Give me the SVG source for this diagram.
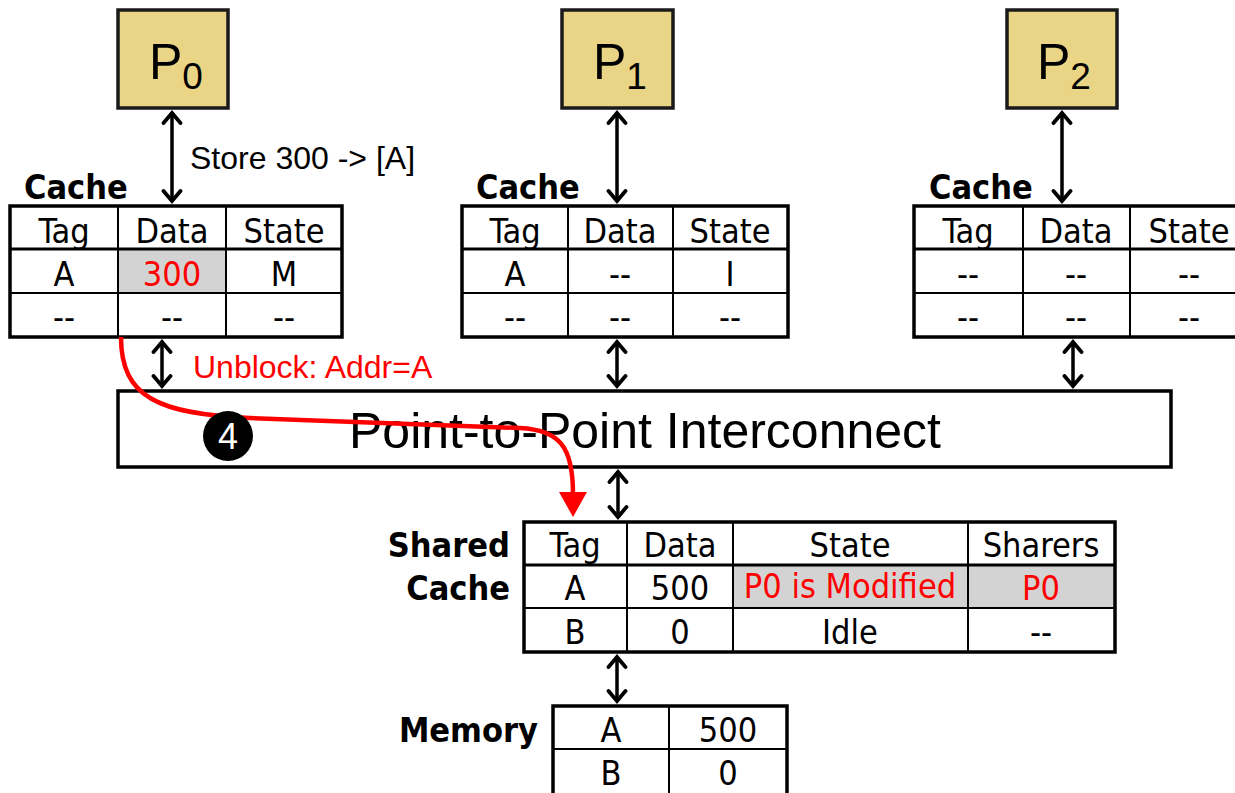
<svg xmlns="http://www.w3.org/2000/svg" width="1235" height="793" viewBox="0 0 1235 793">
<style>
.proc{fill:#e9d585;stroke:#1a1a1a;stroke-width:3.5}
.outer{fill:none;stroke:#000;stroke-width:3.5}
.inner{stroke:#000;stroke-width:2}
.hsep{stroke:#000;stroke-width:3}
.shade{fill:#d3d3d3}
.cell{font-family:"DejaVu Sans Condensed","DejaVu Sans",sans-serif;font-stretch:condensed;font-size:34px;text-anchor:middle;fill:#000}
.red{fill:#ff0000}
.lbl{font-family:"DejaVu Sans Condensed","DejaVu Sans",sans-serif;font-stretch:condensed;font-weight:bold;font-size:34px;fill:#000}
.ptxt{font-family:"Liberation Sans",Arial,sans-serif;font-size:50px;fill:#000}
.arial{font-family:"Liberation Sans",Arial,sans-serif;font-size:32px}
.conn{stroke:#000;stroke-width:3.5;fill:none;marker-start:url(#chev);marker-end:url(#chev)}
</style>
<defs>
<marker id="chev" viewBox="-12 -12 24 24" markerWidth="24" markerHeight="24" markerUnits="userSpaceOnUse" orient="auto-start-reverse" refX="0" refY="0">
<path d="M-10,-8.5 L0,0 L-10,8.5" fill="none" stroke="#000" stroke-width="3.8" stroke-linecap="round" stroke-linejoin="miter"/>
</marker>
</defs>
<rect width="1235" height="793" fill="#fff"/>

<g id="P0">
<rect class="proc" x="118" y="10" width="110" height="98"/>
<text class="ptxt" x="149" y="79">P<tspan font-size="37" dy="10">0</tspan></text>
</g>
<g id="P1">
<rect class="proc" x="562" y="10" width="111" height="98"/>
<text class="ptxt" x="593" y="79">P<tspan font-size="37" dy="10">1</tspan></text>
</g>
<g id="P2">
<rect class="proc" x="1007" y="10" width="110" height="98"/>
<text class="ptxt" x="1037" y="79">P<tspan font-size="37" dy="10">2</tspan></text>
</g>

<g id="cache0">
<text class="lbl" x="24" y="199">Cache</text>
<rect class="shade" x="118" y="249" width="108" height="44"/>
<line class="hsep" x1="10" y1="249" x2="342" y2="249"/>
<line class="inner" x1="10" y1="293" x2="342" y2="293"/>
<line class="inner" x1="118" y1="206" x2="118" y2="337"/>
<line class="inner" x1="226" y1="206" x2="226" y2="337"/>
<rect class="outer" x="10" y="206" width="332" height="131"/>
<text class="cell" x="64" y="243">Tag</text>
<text class="cell" x="172" y="243">Data</text>
<text class="cell" x="284" y="243">State</text>
<text class="cell" x="64" y="286">A</text>
<text class="cell red" x="172" y="286">300</text>
<text class="cell" x="284" y="286">M</text>
<text class="cell" x="64" y="329">--</text>
<text class="cell" x="172" y="329">--</text>
<text class="cell" x="284" y="329">--</text>
</g>

<g id="cache1">
<text class="lbl" x="476" y="199">Cache</text>
<line class="hsep" x1="462" y1="249" x2="788" y2="249"/>
<line class="inner" x1="462" y1="293" x2="788" y2="293"/>
<line class="inner" x1="568" y1="206" x2="568" y2="337"/>
<line class="inner" x1="673" y1="206" x2="673" y2="337"/>
<rect class="outer" x="462" y="206" width="326" height="131"/>
<text class="cell" x="515" y="243">Tag</text>
<text class="cell" x="620" y="243">Data</text>
<text class="cell" x="730" y="243">State</text>
<text class="cell" x="515" y="286">A</text>
<text class="cell" x="620" y="286">--</text>
<text class="cell" x="730" y="286">I</text>
<text class="cell" x="515" y="329">--</text>
<text class="cell" x="620" y="329">--</text>
<text class="cell" x="730" y="329">--</text>
</g>

<g id="cache2">
<text class="lbl" x="929" y="199">Cache</text>
<line class="hsep" x1="914" y1="249" x2="1245" y2="249"/>
<line class="inner" x1="914" y1="293" x2="1245" y2="293"/>
<line class="inner" x1="1023" y1="206" x2="1023" y2="337"/>
<line class="inner" x1="1130" y1="206" x2="1130" y2="337"/>
<rect class="outer" x="914" y="206" width="331" height="131"/>
<text class="cell" x="968" y="243">Tag</text>
<text class="cell" x="1076" y="243">Data</text>
<text class="cell" x="1189" y="243">State</text>
<text class="cell" x="968" y="286">--</text>
<text class="cell" x="1076" y="286">--</text>
<text class="cell" x="1189" y="286">--</text>
<text class="cell" x="968" y="329">--</text>
<text class="cell" x="1076" y="329">--</text>
<text class="cell" x="1189" y="329">--</text>
</g>

<g id="interconnect">
<rect x="118" y="391" width="1053" height="76" fill="#fff" stroke="#000" stroke-width="3.5"/>
<text class="ptxt" x="645" y="448" text-anchor="middle" font-size="51">Point-to-Point Interconnect</text>
</g>

<g id="sharedcache">
<text class="lbl" x="510" y="557" text-anchor="end">Shared</text>
<text class="lbl" x="510" y="600" text-anchor="end">Cache</text>
<rect class="shade" x="733" y="565" width="381" height="43"/>
<line class="hsep" x1="524" y1="565" x2="1115" y2="565"/>
<line class="inner" x1="524" y1="608" x2="1115" y2="608"/>
<line class="inner" x1="627" y1="522" x2="627" y2="652"/>
<line class="inner" x1="733" y1="522" x2="733" y2="652"/>
<line class="inner" x1="968" y1="522" x2="968" y2="652"/>
<rect class="outer" x="524" y="522" width="591" height="130"/>
<text class="cell" x="575" y="557">Tag</text>
<text class="cell" x="680" y="557">Data</text>
<text class="cell" x="850" y="557">State</text>
<text class="cell" x="1041" y="557">Sharers</text>
<text class="cell" x="575" y="600">A</text>
<text class="cell" x="680" y="600">500</text>
<text class="cell red" x="850" y="598">P0 is Modified</text>
<text class="cell red" x="1041" y="600">P0</text>
<text class="cell" x="575" y="644">B</text>
<text class="cell" x="680" y="644">0</text>
<text class="cell" x="850" y="644">Idle</text>
<text class="cell" x="1041" y="644">--</text>
</g>

<g id="memory">
<text class="lbl" x="538" y="742" text-anchor="end">Memory</text>
<line class="inner" x1="553" y1="749" x2="787" y2="749"/>
<line class="inner" x1="669" y1="706" x2="669" y2="795"/>
<rect class="outer" x="553" y="706" width="234" height="90"/>
<text class="cell" x="611" y="742">A</text>
<text class="cell" x="728" y="742">500</text>
<text class="cell" x="611" y="785">B</text>
<text class="cell" x="728" y="785">0</text>
</g>

<g id="connectors">
<line class="conn" x1="172" y1="113" x2="172" y2="201"/>
<line class="conn" x1="617" y1="113" x2="617" y2="201"/>
<line class="conn" x1="1062" y1="113" x2="1062" y2="201"/>
<line class="conn" x1="162" y1="342" x2="162" y2="386"/>
<line class="conn" x1="617" y1="342" x2="617" y2="386"/>
<line class="conn" x1="1073" y1="342" x2="1073" y2="386"/>
<line class="conn" x1="618" y1="472" x2="618" y2="517"/>
<line class="conn" x1="617" y1="657" x2="617" y2="701"/>
<text class="arial" x="190" y="169" fill="#000">Store 300 -&gt; [A]</text>
<text class="arial" x="193" y="378" fill="#ff0000">Unblock: Addr=A</text>
<path d="M121,337 C121,397 158,414 250,418 L520,428 C560,430 573,447 573,494" fill="none" stroke="#ff0000" stroke-width="4.5"/>
<polygon points="559,492 587,492 573,517" fill="#ff0000"/>
<circle cx="228" cy="436" r="25" fill="#000"/>
<text x="228" y="449" text-anchor="middle" font-family="Liberation Sans,Arial,sans-serif" font-size="36" fill="#fff">4</text>
</g>
</svg>
